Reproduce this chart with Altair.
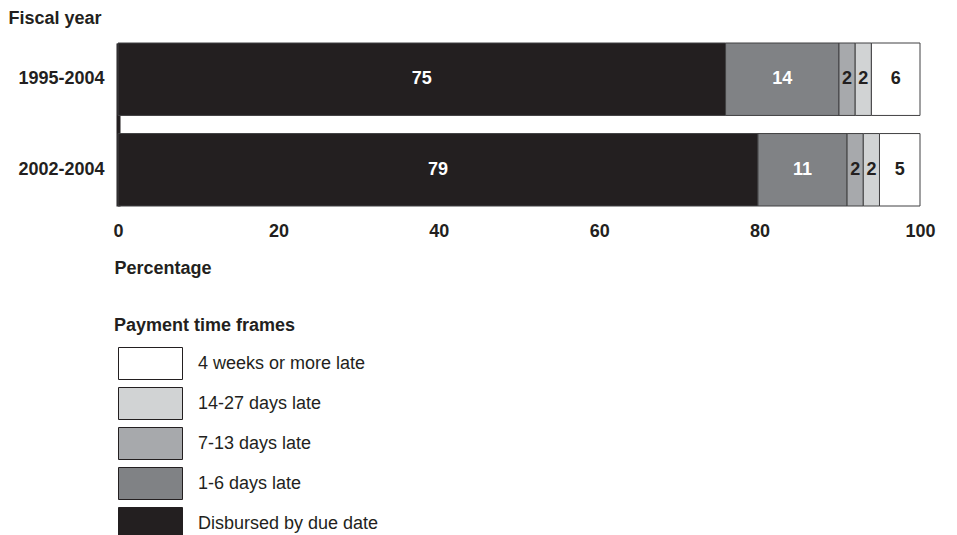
import altair as alt
import pandas as pd

# Fiscal-year groups and payment time-frame categories (stacking order, left to right)
years = ["1995-2004", "2002-2004"]
frames = [
    "Disbursed by due date",
    "1-6 days late",
    "7-13 days late",
    "14-27 days late",
    "4 weeks or more late",
]
shares_1995_2004 = [75, 14, 2, 2, 6]
shares_2002_2004 = [79, 11, 2, 2, 5]
fills = ["#231f20", "#808285", "#a7a9ac", "#d1d3d4", "#ffffff"]
x_ticks = [0, 20, 40, 60, 80, 100]

INK = "#231f20"
FONT = "Liberation Sans"

rows = []
for year, shares in zip(years, [shares_1995_2004, shares_2002_2004]):
    for i, (frame, v) in enumerate(zip(frames, shares)):
        rows.append({"year": year, "frame": frame, "order": i, "value": v})
df = pd.DataFrame(rows)

# Each bar is scaled to its own total so the stack spans the full 0-100 axis
base = (
    alt.Chart(df)
    .transform_joinaggregate(total="sum(value)", groupby=["year"])
    .transform_window(
        cum="sum(value)", groupby=["year"], sort=[alt.SortField("order")], frame=[None, 0]
    )
    .transform_calculate(
        start="100 * (datum.cum - datum.value) / datum.total",
        end="100 * datum.cum / datum.total",
        mid="100 * (datum.cum - datum.value / 2) / datum.total",
    )
)

x_scale = alt.Scale(domain=[0, 100], nice=False, zero=True)
y_scale = alt.Scale(domain=years, paddingInner=0.2, paddingOuter=0)

# Wide rectangular legend swatch (64 x 32 px at symbolSize 1024)
swatch = "M-0.75,-1H3.25V1H-0.75Z"

bars = base.mark_bar(stroke="#414042", strokeWidth=1, opacity=1).encode(
    x=alt.X(
        "start:Q",
        scale=x_scale,
        axis=alt.Axis(
            values=x_ticks,
            title="Percentage",
            domain=False,
            ticks=False,
            grid=False,
            labelFlush=False,
            labelFontSize=18,
            labelFontWeight="bold",
            labelPadding=16,
            labelColor=INK,
            titleFontSize=18,
            titleFontWeight="bold",
            titleColor=INK,
            titleAlign="left",
            titleAnchor="start",
            titleBaseline="alphabetic",
            titleX=-4,
            titleY=67,
        ),
    ),
    x2="end:Q",
    y=alt.Y(
        "year:N",
        scale=y_scale,
        sort=years,
        axis=alt.Axis(
            title="Fiscal year",
            titleAngle=0,
            titleX=-110,
            titleY=-20,
            titleAlign="left",
            titleBaseline="alphabetic",
            titleFontSize=18,
            titleFontWeight="bold",
            titleColor=INK,
            labelFontSize=18,
            labelFontWeight="bold",
            labelColor=INK,
            labelPadding=14,
            ticks=False,
            grid=False,
            domain=True,
            domainColor=INK,
            domainWidth=4,
        ),
    ),
    color=alt.Color(
        "frame:N",
        scale=alt.Scale(domain=frames[::-1], range=fills[::-1]),
        legend=alt.Legend(
            title="Payment time frames",
            orient="none",
            legendX=-4,
            legendY=274,
            padding=0,
            symbolType=swatch,
            symbolSize=1024,
            symbolStrokeColor=INK,
            symbolStrokeWidth=1,
            symbolOpacity=1,
            labelFontSize=18,
            labelColor=INK,
            labelOffset=51,
            labelLimit=400,
            titleLimit=400,
            titleFontSize=18,
            titleFontWeight="bold",
            titleColor=INK,
            titlePadding=12,
            rowPadding=3,
        ),
    ),
)

labels = base.mark_text(font=FONT, fontSize=18, fontWeight="bold").encode(
    x=alt.X("mid:Q", scale=x_scale),
    y=alt.Y("year:N", scale=y_scale, sort=years),
    text=alt.Text("value:Q"),
    color=alt.condition("datum.order < 2", alt.value("#ffffff"), alt.value(INK)),
)

chart = (
    alt.layer(bars, labels)
    .properties(
        width=802,
        height=163,
        autosize=alt.AutoSizeParams(type="none"),
        padding={"left": 118, "top": 43, "right": 37, "bottom": 329},
        background="#ffffff",
    )
    .configure(font=FONT)
    .configure_view(stroke=None)
)

chart.save("out.html", embed_options={"renderer": "svg", "actions": False})
